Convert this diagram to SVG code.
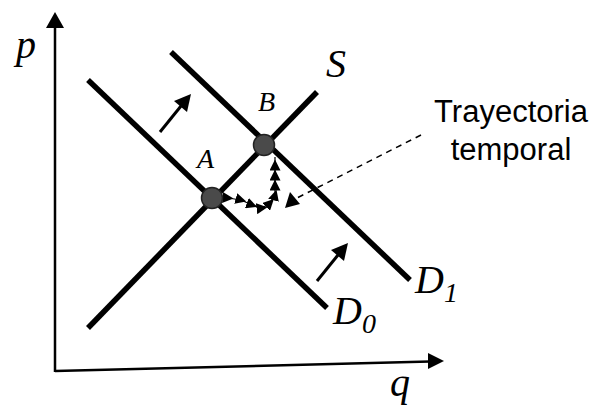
<svg xmlns="http://www.w3.org/2000/svg" width="602" height="410" viewBox="0 0 602 410">
<style>
.thick{stroke:#000;stroke-width:5.5;fill:none;stroke-linecap:butt}
.axis{stroke:#000;stroke-width:2.5;fill:none}
.it{font-family:"Liberation Serif",serif;font-style:italic;fill:#000}
.sans{font-family:"Liberation Sans",Arial,sans-serif;fill:#000;font-size:31px;text-anchor:middle}
.pt{fill:#4a4a4a;stroke:#222;stroke-width:1.5}
</style>
<defs>
<marker id="tri" viewBox="0 0 10 10" refX="5" refY="5" markerWidth="11" markerHeight="11" markerUnits="userSpaceOnUse" orient="auto"><path d="M0,0 L10,5 L0,10 z" fill="#000"/></marker>
</defs>
<g id="axes">
<line class="axis" x1="55" y1="372" x2="55" y2="26"/>
<polygon points="55,12 46,28 64,28" fill="#000"/>
<line class="axis" x1="55" y1="371" x2="430" y2="361.5"/>
<polygon points="444,361 428,353 428,369" fill="#000"/>
</g>
<g id="curves">
<line id="S" class="thick" x1="88" y1="328" x2="317" y2="92"/>
<line id="D0" class="thick" x1="88" y1="80" x2="327" y2="308"/>
<line id="D1" class="thick" x1="171" y1="52" x2="410" y2="280"/>
</g>
<g id="connectors">
<line x1="160" y1="132" x2="181" y2="106" stroke="#000" stroke-width="3"/>
<polygon points="191,94 174,101 187,112" fill="#000"/>
<line x1="317" y1="281" x2="338" y2="255" stroke="#000" stroke-width="3"/>
<polygon points="348,243 331,250 344,261" fill="#000"/>
<polyline points="213,198 228,198 241,200 252,205 262,208 270,203 275,195 275,185 275,175 275,165 275,157" fill="none" stroke="#000" stroke-width="1.2" marker-mid="url(#tri)"/>
<line x1="421" y1="135" x2="297" y2="198" stroke="#000" stroke-width="1.5" stroke-dasharray="6,5"/>
<polygon points="285,208 290,192 300,204" fill="#000"/>
</g>
<g id="A"><circle class="pt" cx="212" cy="198" r="10.5"/><text class="it" x="197" y="168" font-size="28">A</text></g>
<g id="B"><circle class="pt" cx="264" cy="145" r="10.5"/><text class="it" x="258" y="111" font-size="28">B</text></g>
<g id="labels">
<text class="it" x="16" y="58" font-size="40">p</text>
<text class="it" x="326" y="77" font-size="40">S</text>
<text class="it" x="333" y="324" font-size="40">D<tspan font-size="28" dy="9">0</tspan></text>
<text class="it" x="415" y="293" font-size="40">D<tspan font-size="28" dy="9">1</tspan></text>
<text class="it" x="390" y="396" font-size="40">q</text>
<text class="sans" x="511" y="122">Trayectoria</text>
<text class="sans" x="511" y="160">temporal</text>
</g>
</svg>
